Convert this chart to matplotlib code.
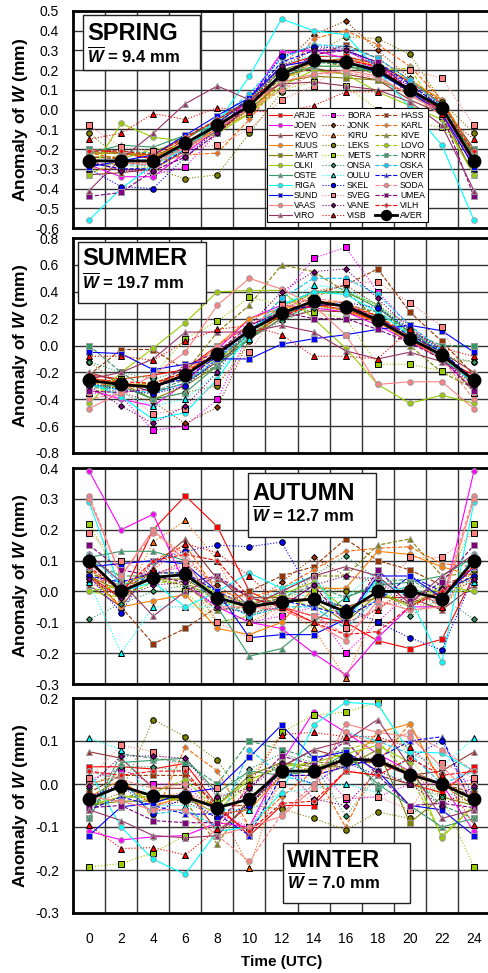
import matplotlib
matplotlib.use("Agg")
import matplotlib.pyplot as plt
from matplotlib.patches import Rectangle
from matplotlib.ticker import FormatStrFormatter, MultipleLocator

plt.rcParams["font.family"] = ["Liberation Sans", "DejaVu Sans"]
plt.rcParams["mathtext.fontset"] = "custom"
plt.rcParams["mathtext.it"] = "Liberation Sans:italic:bold"
plt.rcParams["mathtext.rm"] = "Liberation Sans:bold"
plt.rcParams["mathtext.bf"] = "Liberation Sans:bold"
plt.rcParams["axes.unicode_minus"] = False

# ---- data: anomaly of W (mm) at 0,2,...,22 UTC (24 UTC repeats 0 UTC) ----
HOURS = [0, 2, 4, 6, 8, 10, 12, 14, 16, 18, 20, 22, 24]
STATIONS = ["ARJE", "BORA", "HASS", "JOEN", "JONK", "KARL", "KEVO", "KIRU",
            "KIVE", "KUUS", "LEKS", "LOVO", "MART", "METS", "NORR", "OLKI",
            "ONSA", "OSKA", "OSTE", "OULU", "OVER", "RIGA", "SKEL", "SODA",
            "SUND", "SVEG", "UMEA", "VAAS", "VANE", "VILH", "VIRO", "VISB"]

SPRING = [
    [-0.20, -0.22, -0.25, -0.15, -0.05, 0.05, 0.22, 0.27, 0.27, 0.23, 0.14, 0.03],   # ARJE
    [-0.27, -0.30, -0.33, -0.29, -0.12, 0.05, 0.28, 0.31, 0.30, 0.22, 0.12, -0.02],  # BORA
    [-0.24, -0.25, -0.26, -0.19, -0.10, 0.02, 0.16, 0.27, 0.33, 0.26, 0.15, 0.04],   # HASS
    [-0.28, -0.34, -0.34, -0.22, -0.10, 0.05, 0.29, 0.30, 0.26, 0.21, 0.10, -0.01],  # JOEN
    [-0.25, -0.27, -0.27, -0.18, -0.12, 0.00, 0.22, 0.38, 0.45, 0.30, 0.16, 0.02],   # JONK
    [-0.22, -0.25, -0.27, -0.23, -0.22, -0.05, 0.15, 0.36, 0.40, 0.33, 0.22, 0.05],  # KARL
    [-0.33, -0.32, -0.30, -0.21, -0.07, 0.05, 0.17, 0.21, 0.18, 0.15, 0.05, -0.02],  # KEVO
    [-0.30, -0.30, -0.31, -0.20, -0.12, 0.02, 0.18, 0.24, 0.26, 0.22, 0.13, 0.02],   # KIRU
    [-0.24, -0.24, -0.22, -0.15, -0.05, 0.05, 0.20, 0.25, 0.22, 0.18, 0.10, 0.00],   # KIVE
    [-0.22, -0.22, -0.24, -0.17, -0.10, -0.02, 0.15, 0.24, 0.26, 0.22, 0.15, 0.05],  # KUUS
    [-0.12, -0.25, -0.30, -0.35, -0.33, -0.12, 0.09, 0.28, 0.37, 0.36, 0.28, 0.04],  # LEKS
    [-0.33, -0.25, -0.20, -0.18, -0.10, 0.00, 0.15, 0.22, 0.22, 0.20, 0.21, -0.04],  # LOVO
    [-0.22, -0.22, -0.23, -0.18, -0.10, 0.00, 0.14, 0.17, 0.16, 0.15, 0.08, -0.02],  # MART
    [-0.25, -0.28, -0.30, -0.20, -0.10, -0.02, 0.10, 0.14, 0.12, 0.00, -0.06, -0.09],  # METS
    [-0.20, -0.21, -0.22, -0.14, -0.06, 0.04, 0.20, 0.24, 0.23, 0.19, 0.10, 0.02],   # NORR
    [-0.33, -0.07, -0.14, -0.16, -0.12, -0.02, 0.12, 0.20, 0.18, 0.09, 0.02, -0.05],  # OLKI
    [-0.25, -0.27, -0.25, -0.17, -0.09, 0.02, 0.16, 0.24, 0.26, 0.24, 0.14, 0.03],   # ONSA
    [-0.27, -0.28, -0.28, -0.18, -0.05, 0.08, 0.26, 0.33, 0.32, 0.26, 0.15, 0.02],   # OSKA
    [-0.22, -0.18, -0.19, -0.13, -0.08, 0.02, 0.17, 0.22, 0.22, 0.19, 0.09, 0.00],   # OSTE
    [-0.25, -0.26, -0.25, -0.20, -0.05, 0.05, 0.22, 0.28, 0.26, 0.20, 0.10, -0.03],  # OULU
    [-0.27, -0.30, -0.30, -0.20, -0.07, 0.06, 0.24, 0.30, 0.30, 0.24, 0.13, 0.01],   # OVER
    [-0.56, -0.40, -0.28, -0.20, -0.07, 0.17, 0.46, 0.40, 0.38, 0.20, 0.01, -0.18],  # RIGA
    [-0.30, -0.39, -0.40, -0.24, -0.10, 0.06, 0.27, 0.32, 0.31, 0.23, 0.12, 0.02],   # SKEL
    [-0.27, -0.28, -0.26, -0.20, -0.10, 0.00, 0.10, 0.18, 0.19, 0.16, 0.08, -0.03],  # SODA
    [-0.29, -0.26, -0.23, -0.13, -0.03, 0.06, 0.22, 0.25, 0.24, 0.19, 0.09, -0.02],  # SUND
    [-0.08, -0.19, -0.21, -0.20, -0.18, -0.10, 0.05, 0.12, 0.25, 0.22, 0.20, 0.16],  # SVEG
    [-0.44, -0.42, -0.31, -0.24, -0.12, 0.02, 0.17, 0.28, 0.30, 0.24, 0.10, -0.02],  # UMEA
    [-0.25, -0.27, -0.28, -0.19, -0.10, 0.02, 0.14, 0.18, 0.20, 0.17, 0.07, -0.01],  # VAAS
    [-0.26, -0.31, -0.31, -0.24, -0.12, 0.03, 0.22, 0.30, 0.30, 0.22, 0.11, 0.01],   # VANE
    [-0.21, -0.21, -0.23, -0.14, -0.05, 0.04, 0.18, 0.25, 0.25, 0.22, 0.10, 0.00],   # VILH
    [-0.41, -0.25, -0.12, 0.03, 0.12, 0.05, 0.13, 0.14, 0.12, 0.10, 0.04, -0.08],    # VIRO
    [-0.15, -0.12, -0.02, -0.05, 0.01, -0.01, -0.01, 0.02, 0.09, 0.09, 0.12, -0.02],  # VISB
]
SPRING_AVER = [-0.26, -0.26, -0.26, -0.17, -0.08, 0.02, 0.18, 0.25, 0.24, 0.20, 0.10, 0.01]

SUMMER = [
    [-0.22, -0.25, -0.22, -0.18, 0.00, 0.15, 0.25, 0.30, 0.27, 0.18, 0.05, -0.10],   # ARJE
    [-0.35, -0.38, -0.63, -0.60, -0.40, 0.10, 0.35, 0.65, 0.73, 0.40, 0.15, -0.05],  # BORA
    [-0.22, -0.03, -0.03, -0.18, -0.10, 0.08, 0.22, 0.38, 0.45, 0.57, 0.25, 0.03],   # HASS
    [-0.33, -0.40, -0.45, -0.28, -0.03, 0.20, 0.30, 0.28, 0.25, 0.15, 0.03, -0.10],  # JOEN
    [-0.30, -0.35, -0.42, -0.58, -0.46, 0.05, 0.25, 0.40, 0.45, 0.30, 0.10, -0.05],  # JONK
    [-0.28, -0.30, -0.28, -0.22, -0.05, 0.10, 0.25, 0.33, 0.32, 0.22, 0.08, -0.08],  # KARL
    [-0.20, -0.27, -0.35, -0.28, -0.12, 0.05, 0.20, 0.26, 0.25, 0.18, 0.07, -0.05],  # KEVO
    [-0.30, -0.32, -0.30, -0.25, -0.10, 0.08, 0.22, 0.30, 0.30, 0.25, 0.10, -0.02],  # KIRU
    [-0.32, -0.30, -0.28, -0.20, 0.10, 0.30, 0.60, 0.55, 0.40, 0.20, 0.00, -0.20],   # KIVE
    [-0.24, -0.28, -0.30, -0.22, 0.00, 0.20, 0.28, 0.30, 0.26, 0.17, 0.04, -0.10],   # KUUS
    [-0.12, -0.30, -0.40, -0.35, -0.30, 0.03, 0.28, 0.40, 0.40, 0.30, 0.15, -0.10],  # LEKS
    [-0.35, -0.30, -0.28, -0.20, -0.10, 0.05, 0.30, 0.38, 0.40, 0.30, 0.08, -0.05],  # LOVO
    [-0.27, -0.28, -0.40, -0.30, -0.15, 0.05, 0.23, 0.30, 0.30, 0.20, 0.06, -0.08],  # MART
    [-0.30, -0.25, -0.22, 0.05, 0.18, 0.36, 0.30, 0.25, 0.20, -0.14, -0.14, -0.19],  # METS
    [0.00, -0.20, -0.35, -0.25, -0.15, 0.05, 0.20, 0.30, 0.30, 0.25, 0.10, 0.00],    # NORR
    [-0.43, -0.20, -0.02, 0.17, 0.40, 0.41, 0.41, 0.20, -0.02, -0.29, -0.43, -0.37],  # OLKI
    [-0.12, -0.20, -0.25, -0.18, -0.08, 0.06, 0.18, 0.28, 0.27, 0.20, 0.05, -0.08],  # ONSA
    [-0.30, -0.33, -0.35, -0.28, -0.10, 0.10, 0.35, 0.50, 0.50, 0.38, 0.15, -0.03],  # OSKA
    [-0.30, -0.30, -0.40, -0.35, -0.15, 0.10, 0.30, 0.40, 0.40, 0.28, 0.10, -0.05],  # OSTE
    [-0.30, -0.35, -0.45, -0.40, -0.20, 0.05, 0.30, 0.45, 0.42, 0.30, 0.12, -0.05],  # OULU
    [-0.25, -0.30, -0.30, -0.25, -0.08, 0.12, 0.25, 0.30, 0.30, 0.20, 0.08, -0.05],  # OVER
    [-0.27, -0.38, -0.55, -0.50, -0.25, 0.10, 0.30, 0.40, 0.38, 0.25, 0.08, -0.10],  # RIGA
    [-0.28, -0.33, -0.36, -0.30, -0.10, 0.15, 0.24, 0.30, 0.32, 0.28, 0.12, -0.04],  # SKEL
    [-0.40, -0.35, -0.32, -0.20, 0.00, 0.15, 0.28, 0.35, 0.32, 0.20, 0.05, -0.10],   # SODA
    [-0.05, -0.06, -0.18, -0.14, -0.10, -0.10, 0.01, 0.05, 0.08, 0.12, 0.15, 0.11],  # SUND
    [-0.35, -0.33, -0.51, -0.47, -0.27, -0.05, 0.30, 0.35, 0.47, 0.47, 0.32, 0.14],  # SVEG
    [-0.34, -0.35, -0.32, -0.15, -0.05, 0.15, 0.25, 0.20, 0.20, 0.12, 0.02, -0.10],  # UMEA
    [-0.47, -0.35, -0.22, -0.05, 0.30, 0.50, 0.42, 0.30, 0.08, -0.29, -0.27, -0.27],  # VAAS
    [-0.30, -0.45, -0.58, -0.45, -0.20, 0.15, 0.40, 0.55, 0.57, 0.35, 0.12, -0.10],  # VANE
    [-0.25, -0.27, -0.28, -0.20, -0.05, 0.12, 0.22, 0.30, 0.30, 0.22, 0.05, -0.08],  # VILH
    [-0.25, -0.20, -0.10, 0.10, 0.10, 0.10, 0.15, 0.10, -0.04, -0.10, -0.05, -0.12],  # VIRO
    [-0.08, -0.08, -0.11, 0.03, 0.12, 0.15, 0.08, -0.08, -0.08, -0.10, 0.12, -0.02],  # VISB
]
SUMMER_AVER = [-0.26, -0.29, -0.31, -0.22, -0.06, 0.11, 0.24, 0.33, 0.29, 0.19, 0.05, -0.07]

AUTUMN = [
    [0.05, -0.02, 0.20, 0.31, 0.21, 0.00, -0.05, -0.08, -0.10, -0.16, -0.185, -0.155],  # ARJE
    [0.05, 0.02, 0.06, 0.08, -0.05, -0.10, -0.08, -0.05, -0.20, -0.10, 0.00, 0.00],   # BORA
    [0.06, -0.05, -0.17, -0.12, -0.05, 0.00, 0.05, 0.08, 0.17, 0.10, 0.07, 0.02],     # HASS
    [0.39, 0.20, 0.25, 0.02, -0.05, -0.10, -0.12, -0.20, -0.27, -0.15, -0.05, -0.05],  # JOEN
    [0.03, -0.02, 0.05, 0.10, 0.02, -0.05, 0.03, 0.11, 0.05, 0.03, 0.00, 0.00],       # JONK
    [0.08, -0.03, 0.10, 0.15, 0.00, -0.02, 0.01, 0.07, 0.13, 0.14, 0.145, 0.09],      # KARL
    [0.02, -0.05, 0.08, 0.17, 0.04, -0.02, -0.02, -0.03, -0.05, -0.02, -0.02, -0.06],  # KEVO
    [0.05, -0.05, 0.16, 0.23, 0.10, -0.10, -0.05, -0.12, -0.28, -0.05, 0.00, -0.05],  # KIRU
    [0.06, 0.02, 0.04, 0.02, -0.06, -0.05, 0.00, 0.05, 0.05, 0.15, 0.17, 0.05],       # KIVE
    [0.05, -0.05, -0.03, -0.01, -0.12, -0.14, -0.10, 0.01, 0.01, 0.13, 0.12, 0.08],   # KUUS
    [0.07, 0.00, 0.05, 0.05, -0.10, -0.08, -0.05, 0.02, 0.00, 0.00, -0.04, -0.05],    # LEKS
    [0.00, -0.02, 0.03, 0.03, -0.03, -0.05, -0.02, -0.05, -0.07, 0.00, 0.00, 0.00],   # LOVO
    [0.05, 0.00, 0.04, 0.04, -0.02, -0.05, -0.03, -0.03, -0.10, -0.01, -0.04, 0.00],  # MART
    [0.22, 0.03, 0.06, 0.00, -0.10, -0.08, -0.02, 0.00, -0.06, -0.02, 0.02, 0.00],    # METS
    [0.10, 0.05, 0.05, 0.05, 0.00, -0.05, -0.02, 0.02, -0.02, 0.03, 0.04, -0.02],     # NORR
    [0.00, 0.02, 0.06, 0.06, -0.01, -0.04, -0.01, 0.03, -0.06, 0.00, -0.05, 0.02],    # OLKI
    [-0.09, -0.04, 0.00, 0.02, -0.02, -0.08, -0.03, 0.05, 0.115, 0.04, -0.08, -0.02],  # ONSA
    [0.12, 0.02, 0.05, 0.05, -0.03, -0.08, -0.05, -0.05, -0.12, -0.02, 0.02, -0.05],  # OSKA
    [0.11, 0.13, 0.13, 0.10, -0.05, -0.21, -0.185, -0.10, -0.02, 0.02, 0.03, 0.05],   # OSTE
    [0.03, -0.20, -0.05, -0.05, -0.05, -0.03, 0.00, -0.02, -0.02, 0.07, -0.02, 0.03],  # OULU
    [0.05, 0.03, 0.06, 0.06, 0.00, -0.05, -0.03, -0.05, -0.08, -0.03, 0.05, 0.00],    # OVER
    [0.29, 0.00, 0.03, -0.05, 0.00, 0.06, 0.01, 0.05, -0.10, 0.04, -0.02, -0.23],     # RIGA
    [0.05, -0.07, 0.10, 0.13, 0.15, 0.145, 0.16, -0.02, -0.05, -0.10, -0.15, -0.19],  # SKEL
    [0.31, 0.05, 0.19, 0.12, 0.00, -0.05, -0.05, -0.08, -0.14, -0.05, -0.02, -0.03],  # SODA
    [0.08, 0.09, 0.10, 0.09, 0.00, -0.15, -0.14, -0.14, -0.09, 0.05, 0.05, -0.02],    # SUND
    [0.19, 0.10, 0.05, 0.09, -0.10, -0.15, -0.05, 0.05, -0.12, -0.02, 0.11, 0.11],    # SVEG
    [0.15, 0.07, 0.05, 0.03, 0.05, -0.02, -0.05, 0.02, -0.10, 0.07, -0.03, 0.03],     # UMEA
    [0.30, 0.05, 0.20, 0.10, -0.05, -0.05, -0.06, -0.10, -0.16, -0.03, -0.06, -0.05],  # VAAS
    [0.04, -0.02, 0.02, 0.03, -0.05, -0.07, -0.05, 0.02, 0.05, 0.04, -0.05, 0.01],    # VANE
    [0.08, 0.00, 0.10, 0.12, 0.10, -0.02, -0.05, -0.10, -0.14, -0.13, -0.05, 0.00],   # VILH
    [0.12, 0.03, -0.08, 0.00, 0.05, -0.05, 0.00, 0.05, 0.08, 0.05, -0.04, 0.05],      # VIRO
    [0.09, 0.00, 0.07, 0.155, 0.125, 0.05, -0.05, -0.10, -0.10, -0.06, 0.02, -0.05],  # VISB
]
AUTUMN_AVER = [0.10, 0.00, 0.045, 0.055, -0.02, -0.05, -0.034, -0.024, -0.066, 0.00, 0.00, -0.024]

WINTER = [
    [0.04, 0.04, 0.035, 0.048, -0.05, -0.12, -0.05, -0.05, 0.03, 0.02, 0.00, -0.02],  # ARJE
    [0.01, 0.035, 0.00, 0.00, -0.07, -0.10, 0.03, 0.05, -0.035, -0.03, 0.00, 0.00],   # BORA
    [-0.02, 0.02, 0.02, 0.02, -0.05, -0.05, 0.03, 0.03, 0.05, 0.05, 0.02, 0.00],      # HASS
    [-0.11, -0.13, -0.123, -0.12, -0.09, -0.10, 0.05, 0.167, 0.12, 0.07, 0.03, 0.00],  # JOEN
    [-0.03, 0.00, -0.05, -0.04, -0.08, -0.05, 0.02, 0.04, 0.06, 0.06, 0.02, 0.00],    # JONK
    [0.00, 0.02, -0.08, 0.085, 0.03, -0.10, -0.03, 0.03, -0.10, 0.05, 0.14, 0.00],    # KARL
    [0.075, 0.06, -0.01, -0.01, -0.11, -0.05, 0.04, 0.08, 0.06, 0.05, 0.02, 0.03],    # KEVO
    [-0.04, 0.00, -0.03, -0.02, -0.05, -0.195, 0.03, 0.03, 0.04, 0.06, 0.03, -0.03],  # KIRU
    [-0.05, -0.03, -0.03, -0.04, -0.14, -0.03, 0.03, 0.05, 0.05, 0.05, 0.03, 0.00],   # KIVE
    [-0.03, 0.01, -0.05, -0.03, -0.07, -0.06, 0.02, 0.02, 0.04, 0.12, 0.14, 0.00],    # KUUS
    [-0.05, -0.02, 0.15, 0.11, 0.055, -0.05, -0.058, -0.08, -0.107, -0.065, -0.08, 0.01],  # LEKS
    [-0.05, -0.03, -0.02, 0.01, -0.06, 0.00, 0.05, 0.03, 0.08, 0.10, 0.02, -0.12],    # LOVO
    [-0.05, -0.04, -0.04, -0.03, -0.05, 0.02, 0.05, 0.04, 0.04, 0.08, -0.09, -0.03],  # MART
    [-0.193, -0.185, -0.16, -0.12, -0.04, 0.01, 0.12, 0.16, 0.167, 0.19, 0.06, -0.03],  # METS
    [-0.08, 0.07, 0.06, 0.05, 0.00, 0.10, 0.08, 0.06, 0.08, -0.01, 0.02, -0.05],      # NORR
    [-0.05, -0.03, -0.03, -0.04, -0.05, 0.01, 0.04, 0.05, 0.07, 0.09, 0.05, -0.125],  # OLKI
    [-0.01, 0.04, 0.04, 0.03, -0.05, 0.035, 0.07, 0.05, -0.075, 0.02, 0.00, -0.03],   # ONSA
    [0.03, 0.01, -0.07, -0.06, -0.10, 0.08, 0.02, 0.00, 0.12, 0.10, 0.07, 0.00],      # OSKA
    [-0.08, 0.05, 0.055, 0.06, -0.02, 0.03, 0.02, 0.03, 0.07, 0.00, -0.05, -0.10],    # OSTE
    [0.107, 0.08, -0.05, -0.05, -0.06, -0.06, -0.02, -0.01, 0.00, -0.02, 0.07, 0.04],  # OULU
    [-0.06, -0.03, -0.05, -0.07, -0.07, -0.12, 0.02, 0.02, 0.04, 0.06, 0.10, 0.11],   # OVER
    [0.03, -0.10, -0.175, -0.21, -0.11, -0.10, -0.02, 0.137, 0.19, 0.185, 0.075, 0.072],  # RIGA
    [-0.03, 0.00, -0.07, -0.03, -0.08, -0.05, 0.03, 0.00, 0.05, 0.02, 0.06, 0.10],    # SKEL
    [0.03, 0.01, -0.01, 0.00, -0.12, -0.18, -0.07, 0.00, 0.12, 0.09, 0.12, 0.08],     # SODA
    [-0.12, -0.053, -0.045, -0.02, -0.01, 0.062, 0.137, 0.06, 0.075, 0.03, -0.05, -0.06],  # SUND
    [0.013, 0.09, 0.075, 0.035, -0.01, -0.10, 0.00, -0.04, -0.03, -0.03, -0.06, 0.05],  # SVEG
    [-0.055, -0.05, -0.085, -0.09, -0.09, -0.01, 0.065, 0.045, 0.10, 0.02, -0.05, -0.045],  # UMEA
    [-0.03, -0.04, -0.06, -0.06, -0.12, -0.10, -0.075, -0.01, 0.14, 0.12, 0.11, 0.04],  # VAAS
    [-0.005, 0.065, 0.065, 0.06, -0.03, -0.01, 0.05, -0.035, -0.05, 0.03, 0.00, -0.05],  # VANE
    [0.03, 0.02, 0.03, 0.03, -0.06, -0.11, -0.045, -0.04, 0.03, 0.02, 0.06, 0.02],    # VILH
    [-0.06, -0.085, -0.12, -0.125, -0.12, -0.04, 0.04, 0.08, 0.10, 0.15, 0.04, -0.08],  # VIRO
    [-0.095, -0.15, -0.148, -0.165, -0.105, 0.00, 0.115, 0.12, 0.11, 0.11, 0.085, 0.02],  # VISB
]
WINTER_AVER = [-0.035, -0.005, -0.028, -0.03, -0.055, -0.035, 0.03, 0.03, 0.058, 0.055, 0.022, 0.00]

SEASONS = [
    ("SPRING", "9.4", SPRING, SPRING_AVER),
    ("SUMMER", "19.7", SUMMER, SUMMER_AVER),
    ("AUTUMN", "12.7", AUTUMN, AUTUMN_AVER),
    ("WINTER", "7.0", WINTER, WINTER_AVER),
]

# ---- per-station line colour, line style, marker ----
STYLE = {
    "ARJE": ("#FF0000", "-", "s"), "JOEN": ("#FF00FF", "-", "o"),
    "KEVO": ("#993333", "-", "^"), "KUUS": ("#FF8000", "-", "o"),
    "MART": ("#808000", "-", "s"), "OLKI": ("#99CC00", "-", "o"),
    "OSTE": ("#339966", "-", "^"), "RIGA": ("#00FFFF", "-", "o"),
    "SUND": ("#0000FF", "-", "s"), "VAAS": ("#FF8080", "-", "o"),
    "VIRO": ("#993366", "-", "^"),
    "BORA": ("#FF00FF", ":", "s"), "JONK": ("#993300", ":", "D"),
    "KIRU": ("#FF6600", ":", "^"), "LEKS": ("#808000", ":", "o"),
    "METS": ("#99CC00", ":", "s"), "ONSA": ("#339966", ":", "D"),
    "OULU": ("#00FFFF", ":", "^"), "SKEL": ("#0000FF", ":", "o"),
    "SVEG": ("#FF8080", ":", "s"), "VANE": ("#800080", ":", "D"),
    "VISB": ("#FF0000", ":", "^"),
    "HASS": ("#993300", "--", "s"), "KARL": ("#FF6600", "--", "D"),
    "KIVE": ("#808000", "--", "^"), "LOVO": ("#99CC00", "--", "o"),
    "NORR": ("#339966", "--", "s"), "OSKA": ("#00CCFF", "--", "o"),
    "OVER": ("#0000FF", "--", "^"), "SODA": ("#FF8080", "--", "o"),
    "UMEA": ("#800080", "--", "s"), "VILH": ("#FF0000", "--", "D"),
}

# axes boxes in pixels (top, bottom) and y ranges
W_PX, H_PX = 488, 973
PANELS = [(11, 228, -0.6, 0.5, 0.1), (238, 453, -0.8, 0.8, 0.2),
          (468, 684, -0.3, 0.4, 0.1), (698, 913, -0.3, 0.2, 0.1)]
# title box: x0, y0, x1, y1 in pixels; baselines of the two lines
TITLE_BOX = [(83, 15, 200, 70, 40, 63), (78, 242, 206, 303, 265, 289),
             (248, 473, 376, 537, 500, 522), (283, 843, 410, 903, 867, 889)]


def fx(px):
    return px / W_PX


def fy(py):
    return 1 - py / H_PX


fig = plt.figure(figsize=(4.88, 9.73), dpi=100)
x_left, x_right = 73, 490

for i, ((name, wbar, rows, aver), (top, bot, ylo, yhi, step)) in enumerate(zip(SEASONS, PANELS)):
    ax = fig.add_axes([fx(x_left), fy(bot), fx(x_right) - fx(x_left), (bot - top) / H_PX])
    handles = []
    for st, vals in zip(STATIONS, rows):
        color, ls, mk = STYLE[st]
        y = list(vals) + [vals[0]]
        edge = "black" if ls == ":" else "#9A9A9A"
        ms = 3.0 if mk == "D" else 4.0
        h, = ax.plot(HOURS, y, color=color, ls=ls, lw=0.8, marker=mk, ms=ms,
                     mfc=color, mec=edge, mew=0.7, label=st, zorder=3)
        handles.append(h)
    ya = list(aver) + [aver[0]]
    h, = ax.plot(HOURS, ya, color="black", lw=2.0, marker="o", ms=9,
                 mfc="black", mec="black", label="AVER", zorder=5)
    handles.append(h)

    ax.set_xlim(-1, 25)
    ax.set_ylim(ylo, yhi)
    ax.yaxis.set_major_locator(MultipleLocator(step))
    ax.yaxis.set_major_formatter(FormatStrFormatter("%.1f"))
    ax.set_xticks(HOURS)
    ax.set_xticks(range(1, 25, 2), minor=True)
    ax.grid(True, which="major", axis="y", color="#333333", lw=1.0, zorder=1)
    ax.grid(True, which="minor", axis="x", color="#333333", lw=1.0, zorder=1)
    ax.tick_params(which="both", length=0, labelsize=10, pad=10)
    for sp in ax.spines.values():
        sp.set_linewidth(2.0)
    ax.set_ylabel(r"Anomaly of $W$ (mm)", fontsize=12.5, fontweight="bold")
    ax.yaxis.set_label_coords(-0.103, 0.5)
    if i == 3:
        ax.set_xlabel("Time (UTC)", fontsize=11, fontweight="bold", labelpad=6)
        ax.tick_params(axis="x", pad=14)
    else:
        ax.tick_params(axis="x", labelbottom=False)

    # season title box
    x0, y0, x1, y1, b1, b2 = TITLE_BOX[i]
    fig.patches.append(Rectangle((fx(x0), fy(y1)), fx(x1) - fx(x0), (y1 - y0) / H_PX,
                                 transform=fig.transFigure, facecolor="white",
                                 edgecolor="#222222", lw=1.0, zorder=6))
    fig.text(fx(x0 + 4), fy(b1), name, fontsize=17, fontweight="bold",
             va="baseline", ha="left", zorder=7)
    fig.text(fx(x0 + 4), fy(b2), r"$\overline{W}$ = " + wbar + " mm", fontsize=12,
             fontweight="bold", va="baseline", ha="left", zorder=7)

    if i == 0:
        # matplotlib fills legend columns first; reorder to keep rows alphabetical
        order = [r * 3 + c for c in range(3) for r in range(11)]
        lh = [handles[k] for k in order]
        leg = ax.legend(lh, [x.get_label() for x in lh], loc="lower left",
                        bbox_to_anchor=((267 - 73) / 417, (228 - 222) / 217),
                        ncol=3, fontsize=6.2, handlelength=2.6, labelspacing=0.12,
                        columnspacing=0.4, handletextpad=0.3, borderpad=0.25,
                        borderaxespad=0.0, fancybox=False, framealpha=1.0,
                        edgecolor="black", markerscale=0.8)
        leg.get_frame().set_linewidth(0.8)
        leg.set_zorder(8)

fig.savefig("out.png", dpi=100)
